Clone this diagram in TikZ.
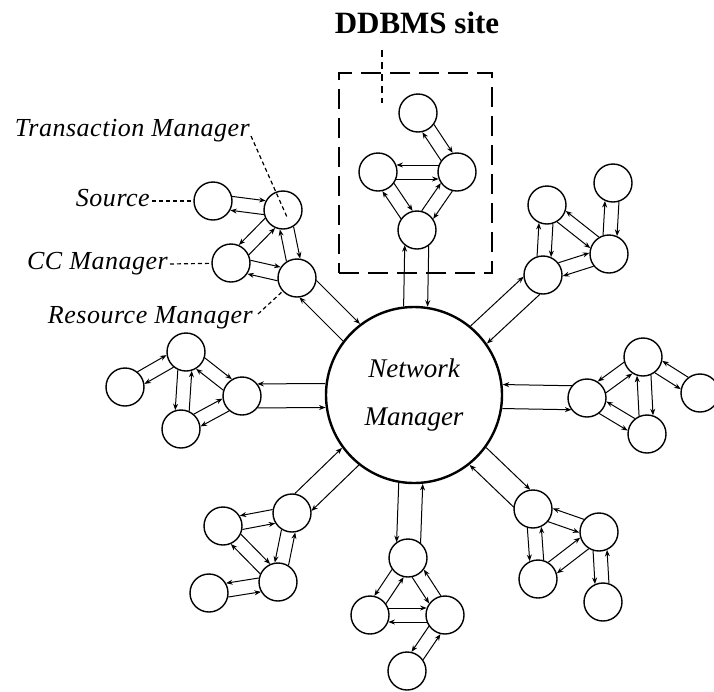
\documentclass[tikz,border=0pt]{standalone}
\usepackage{fontspec}
\setmainfont{Liberation Serif}
\newfontfamily\labfont[LetterSpace=2]{Liberation Serif}
\usetikzlibrary{calc,arrows.meta}
\tikzset{
  site/.style={circle, draw, line width=1.4pt, minimum size=38pt, inner sep=0pt},
  arr/.style={line width=1pt, -{Stealth[length=6.5pt,width=5pt]}},
  leader/.style={line width=1.2pt, dash pattern=on 4pt off 3pt},
  lab/.style={font=\labfont\itshape\fontsize{26}{26}\selectfont, inner sep=0pt, anchor=base east},
}
\newcommand\lk[3]{%
  \pgfmathsetmacro\angb{#3+180}%
  \draw[arr, shorten <=18.4pt, shorten >=18.4pt] ($(#1)!7pt!#3:(#2)$) -- ($(#2)!7pt!\angb:(#1)$);
  \draw[arr, shorten <=18.4pt, shorten >=18.4pt] ($(#2)!7pt!#3:(#1)$) -- ($(#1)!7pt!\angb:(#2)$);
}
\newcommand\lkn[2]{%
  \pgfmathsetmacro\angb{#2+180}%
  \draw[arr, shorten <=15.4pt, shorten >=88.5pt] ($(#1)!12pt!#2:(NM)$) -- ($(NM)!12pt!\angb:(#1)$);
  \draw[arr, shorten <=88.5pt, shorten >=15.4pt] ($(NM)!12pt!#2:(#1)$) -- ($(#1)!12pt!\angb:(NM)$);
}
\begin{document}
\begin{tikzpicture}[x=1pt,y=-1pt]
\useasboundingbox (0,0) rectangle (714,691);
% title and site box
\node[font=\bfseries\fontsize{31}{31}\selectfont, inner sep=0pt] (title) at (417,23) {DDBMS site};
\node[draw, line width=1.1pt, dash pattern=on 20pt off 9pt, minimum width=153pt, minimum height=200pt, inner sep=0pt] (box) at (415.5,173) {};
\coordinate (pt1) at (382,50);
\coordinate (pt2) at (382,103);
\draw[line width=1.1pt, dash pattern=on 7pt off 5pt] (pt1) -- (pt2);
% network manager
\node[circle, draw, line width=2.4pt, minimum size=176pt, inner sep=0pt, align=center,
      font=\itshape\fontsize{27}{48}\selectfont] (NM) at (414,395) {Network\\Manager};
% top site
\node[site] (A) at (418,113) {};
\node[site] (B) at (378,172) {};
\node[site] (C) at (457,172) {};
\node[site] (D) at (417,230) {};
% top-left site
\node[site] (S) at (213,201) {};
\node[site] (TM) at (283,210) {};
\node[site] (CC) at (231,263) {};
\node[site] (RM) at (297,278) {};
% top-right site
\node[site] (TR1) at (547,205) {};
\node[site] (TR2) at (613,183) {};
\node[site] (TR3) at (609,254) {};
\node[site] (TR4) at (543,275) {};
% right site
\node[site] (R1) at (587,398) {};
\node[site] (R2) at (643,357) {};
\node[site] (R3) at (700,393) {};
\node[site] (R4) at (647,434) {};
% bottom-right site
\node[site] (BR1) at (533,509) {};
\node[site] (BR2) at (599,532) {};
\node[site] (BR3) at (538,579) {};
\node[site] (BR4) at (603,602) {};
% bottom site
\node[site] (B1) at (408,558) {};
\node[site] (B2) at (370,615) {};
\node[site] (B3) at (445,615) {};
\node[site] (B4) at (407,671) {};
% bottom-left site
\node[site] (BL1) at (292,513) {};
\node[site] (BL2) at (223,526) {};
\node[site] (BL3) at (278,582) {};
\node[site] (BL4) at (209,593) {};
% left site
\node[site] (L1) at (186,352) {};
\node[site] (L2) at (125,387) {};
\node[site] (L3) at (242,396) {};
\node[site] (L4) at (181,429) {};
% links
\lk{A}{C}{90}
\lk{B}{C}{-90}
\lk{B}{D}{90}
\lk{C}{D}{90}
\lkn{D}{90}
\lk{S}{TM}{90}
\lk{TM}{CC}{-90}
\lk{TM}{RM}{90}
\lk{CC}{RM}{90}
\lkn{RM}{90}
\lk{TR4}{TR1}{90}
\lk{TR1}{TR3}{-90}
\lk{TR4}{TR3}{90}
\lk{TR3}{TR2}{90}
\lkn{TR4}{90}
\lkn{R1}{-90}
\lk{R1}{R2}{-90}
\lk{R2}{R4}{90}
\lk{R2}{R3}{-90}
\lk{R1}{R4}{-90}
\lkn{BR1}{90}
\lk{BR1}{BR2}{-90}
\lk{BR1}{BR3}{-90}
\lk{BR3}{BR2}{90}
\lk{BR2}{BR4}{-90}
\lkn{B1}{-90}
\lk{B1}{B2}{-90}
\lk{B1}{B3}{-90}
\lk{B2}{B3}{90}
\lk{B3}{B4}{-90}
\lkn{BL1}{90}
\lk{BL1}{BL2}{-90}
\lk{BL1}{BL3}{-90}
\lk{BL3}{BL2}{90}
\lk{BL4}{BL3}{-90}
\lkn{L3}{-90}
\lk{L2}{L1}{90}
\lk{L1}{L4}{-90}
\lk{L1}{L3}{90}
\lk{L4}{L3}{90}
% labels
\node[lab] (ltm) at (250,136) {Transaction Manager};
\node[lab] (lsrc) at (150,206) {Source};
\node[lab] (lcc) at (168,269) {CC Manager};
\node[lab] (lrm) at (253,323) {Resource Manager};
\draw[leader] ($(ltm.base east)+(1,0)$) -- ($(TM)+(4,7)$);
\draw[leader] ($(lsrc.base east)+(2,-5)$) -- (S);
\draw[leader] ($(lcc.base east)+(2,-5)$) -- (CC);
\draw[leader] ($(lrm.base east)+(5,-9)$) -- (RM);
\end{tikzpicture}
\end{document}
